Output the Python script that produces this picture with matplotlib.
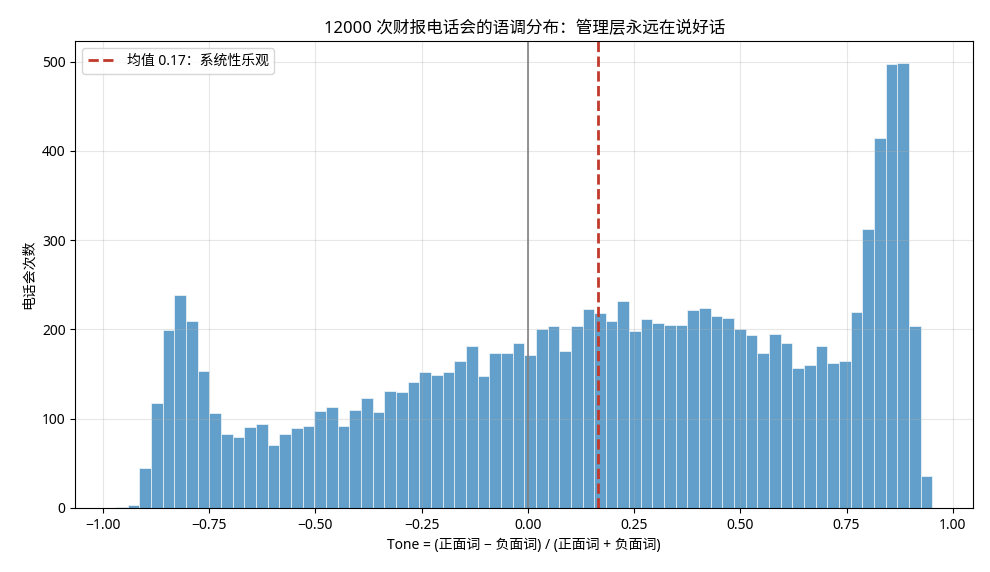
import numpy as np
import matplotlib
matplotlib.use("Agg")
import matplotlib.pyplot as plt

plt.rcParams['font.family'] = ['Noto Sans', 'Noto Sans CJK SC', 'DejaVu Sans']
plt.rcParams['axes.unicode_minus'] = True

# histogram bins (70 equal bins between data min and max)
bin_lo = -0.969
bin_hi = 0.952
n_bins = 70
counts = [1, 3, 45, 118, 199, 238, 209, 153, 106, 83,
          79, 91, 94, 70, 83, 90, 92, 109, 113, 92,
          110, 123, 108, 131, 130, 141, 152, 149, 152, 165,
          181, 148, 174, 174, 185, 171, 200, 204, 176, 204,
          223, 218, 209, 232, 198, 212, 207, 205, 205, 222,
          224, 215, 213, 200, 194, 174, 195, 185, 157, 160,
          181, 162, 165, 219, 312, 414, 497, 498, 204, 36]
mean_tone = 0.165
mean_label = '均值 0.17：系统性乐观'

edges = np.linspace(bin_lo, bin_hi, n_bins + 1)
centers = (edges[:-1] + edges[1:]) / 2

fig, ax = plt.subplots(figsize=(9.9, 5.72), dpi=100)
ax.hist(centers, bins=edges, weights=counts, color='#1f77b4', alpha=0.7,
        edgecolor='white', linewidth=0.6)
ax.axvline(0, color='grey', linewidth=1.2)
ax.axvline(mean_tone, color='#c0392b', linestyle='--', linewidth=2, label=mean_label)

ax.set_title('12000 次财报电话会的语调分布：管理层永远在说好话', fontsize=12)
ax.set_xlabel('Tone = (正面词 − 负面词) / (正面词 + 负面词)')
ax.set_ylabel('电话会次数')
ax.grid(True, alpha=0.3)
ax.legend(loc='upper left')

fig.subplots_adjust(left=0.076, right=0.983, top=0.928, bottom=0.112)
plt.savefig('out.png')
